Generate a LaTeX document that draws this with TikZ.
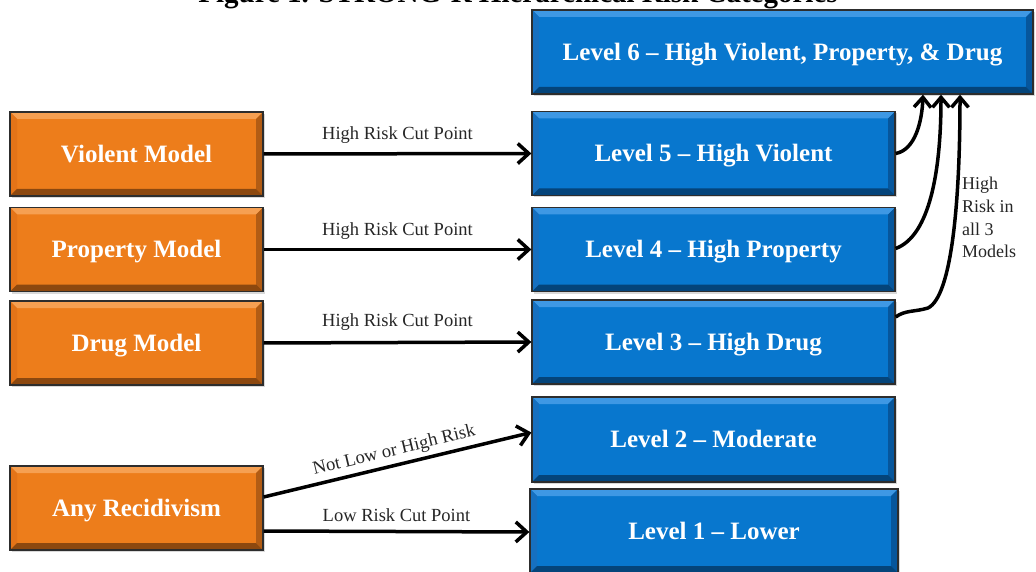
\documentclass[tikz,border=0pt]{standalone}
\usepackage{fontspec}
\setmainfont{Liberation Serif}
\usetikzlibrary{arrows.meta,shadows}
\definecolor{obase}{RGB}{237,125,27}
\definecolor{otop}{RGB}{246,160,82}
\definecolor{oleft}{RGB}{228,116,24}
\definecolor{oright}{RGB}{178,92,20}
\definecolor{obot}{RGB}{140,72,15}
\definecolor{bbase}{RGB}{8,119,206}
\definecolor{btop}{RGB}{62,152,228}
\definecolor{bleft}{RGB}{22,112,192}
\definecolor{bright}{RGB}{6,86,156}
\definecolor{bbot}{RGB}{4,68,122}
\definecolor{edge}{RGB}{45,45,45}
\newcommand\bevelfill[4]{%
  \coordinate (bNW) at (path picture bounding box.north west);
  \coordinate (bNE) at (path picture bounding box.north east);
  \coordinate (bSW) at (path picture bounding box.south west);
  \coordinate (bSE) at (path picture bounding box.south east);
  \fill[#1] (bNW) -- (bNE) -- ([shift={(-7pt,-7pt)}]bNE) -- ([shift={(7pt,-7pt)}]bNW) -- cycle;
  \fill[#2] (bNW) -- ([shift={(7pt,-7pt)}]bNW) -- ([shift={(7pt,7pt)}]bSW) -- (bSW) -- cycle;
  \fill[#3] (bNE) -- (bSE) -- ([shift={(-7pt,7pt)}]bSE) -- ([shift={(-7pt,-7pt)}]bNE) -- cycle;
  \fill[#4] (bSW) -- (bSE) -- ([shift={(-7pt,7pt)}]bSE) -- ([shift={(7pt,7pt)}]bSW) -- cycle;
}
\tikzset{
  boxbase/.style={draw=edge, line width=1.3pt, inner sep=0pt, text=white,
    font=\bfseries\fontsize{25}{29}\selectfont, text height=16.5pt, text depth=0pt,
    drop shadow={shadow xshift=1.5pt, shadow yshift=-2pt, opacity=0.3}},
  obox/.style={boxbase, fill=obase, minimum width=253pt, minimum height=84pt,
    path picture={\bevelfill{otop}{oleft}{oright}{obot}}},
  bbox/.style={boxbase, fill=bbase, minimum height=84pt,
    path picture={\bevelfill{btop}{bleft}{bright}{bbot}}},
  conn/.style={line width=3.5pt, -{Straight Barb[length=11pt,width=20pt,line width=3.5pt]}},
  curv/.style={line width=3.5pt, -{Straight Barb[length=10pt,width=17pt,line width=3.5pt]}},
  lab/.style={text=black!85, font=\fontsize{18.5}{22}\selectfont, inner sep=0pt}
}
\begin{document}
\begin{tikzpicture}[x=1pt,y=-1pt]
\useasboundingbox (0,0) rectangle (1036,572);
\clip (0,0) rectangle (1036,572);
\node[font=\bfseries\fontsize{29}{34}\selectfont, anchor=base, inner sep=0pt] (title) at (518,3) {Figure 1. STRONG-R Hierarchical Risk Categories};
% left boxes
\node[obox] (vio) at (136.5,154) {Violent Model};
\node[obox] (prop) at (136.5,249.5) {Property Model};
\node[obox] (drug) at (136.5,343) {Drug Model};
\node[obox] (any) at (136.5,508) {Any Recidivism};
% right boxes
\node[bbox, minimum width=501pt] (l6) at (782.5,52) {Level 6 -- High Violent, Property, \& Drug};
\node[bbox, minimum width=363pt] (l5) at (713.5,153.5) {Level 5 -- High Violent};
\node[bbox, minimum width=363pt] (l4) at (713.5,249.5) {Level 4 -- High Property};
\node[bbox, minimum width=363pt] (l3) at (713.5,342) {Level 3 -- High Drug};
\node[bbox, minimum width=363pt, minimum height=85pt] (l2) at (713.5,439.5) {Level 2 -- Moderate};
\node[bbox, minimum width=368pt] (l1) at (714,531) {Level 1 -- Lower};
% connectors
\draw[conn] (vio.east) -- (l5.west) node[lab, midway, above=9pt] {High Risk Cut Point};
\draw[conn] (prop.east) -- (l4.west) node[lab, midway, above=8pt] {High Risk Cut Point};
\draw[conn] (drug.east) -- (l3.west) node[lab, midway, above=10pt] {High Risk Cut Point};
\draw[conn] ([yshift=11pt]any.east) -- ([yshift=7pt]l2.west) node[lab, midway, above=4pt, sloped] {Not Low or High Risk};
\draw[conn] ([yshift=-23pt]any.east) -- ([yshift=-1pt]l1.west) node[lab, midway, above=8pt] {Low Risk Cut Point};
% curved to level 6
\draw[curv] (l5.east) .. controls (915,150) and (922,122) .. ([xshift=140.5pt]l6.south);
\draw[curv] ([yshift=1pt]l4.east) .. controls (930,236) and (941,170) .. ([xshift=158.5pt]l6.south);
\draw[curv] ([yshift=25pt]l3.east) .. controls (905,310) and (915,312) .. (928,308) .. controls (952,296) and (960,200) .. ([xshift=177.5pt]l6.south);
\node[lab, anchor=north west, align=left, font=\fontsize{18}{22.7}\selectfont] (hr) at (962,177) {High\\Risk in\\all 3\\Models};
\end{tikzpicture}
\end{document}
